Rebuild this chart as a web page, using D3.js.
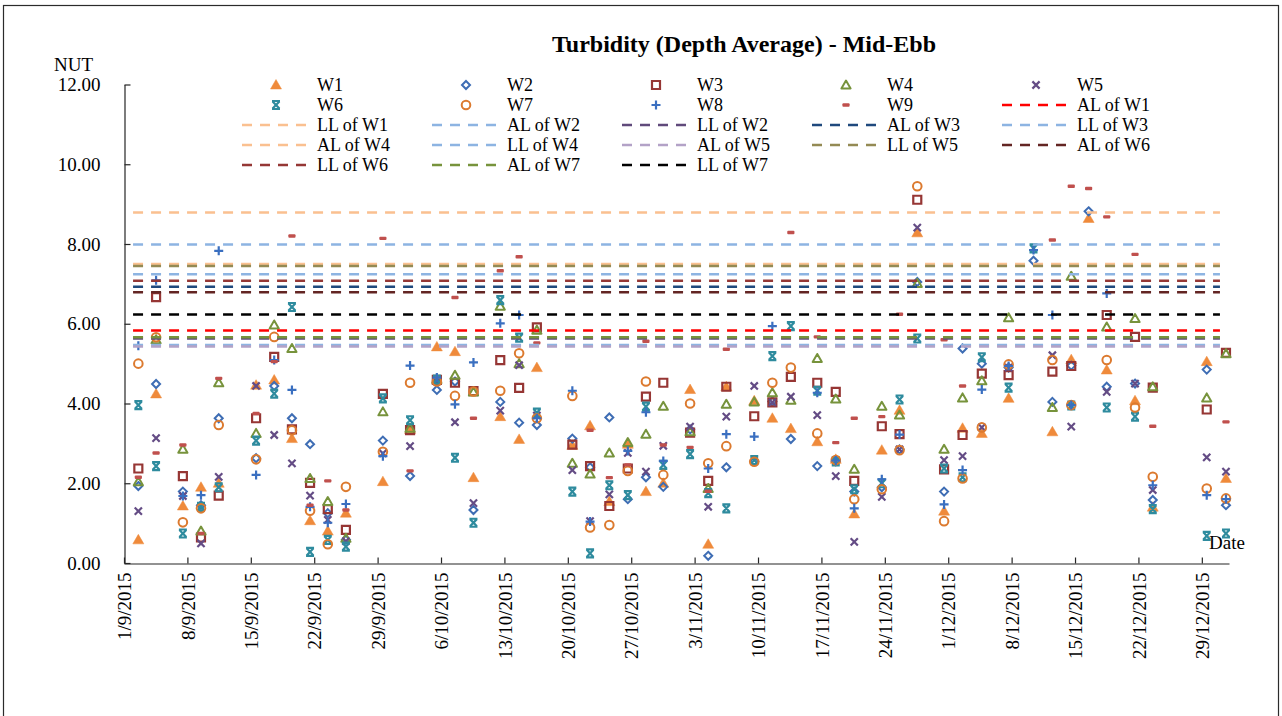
<!DOCTYPE html>
<html>
<head>
<meta charset="utf-8">
<script src="https://cdn.jsdelivr.net/npm/d3@7"></script>
<style>
body { margin: 0; background: #fff; }
text { font-family: "Liberation Serif", "Times New Roman", serif; fill: #000; }
</style>
</head>
<body>
<svg id="chart" width="1282" height="716"></svg>
<script>
// sampling times (mid-ebb)
const sampleTimes = [
    "2015-09-02 14:00", "2015-09-04 13:00", "2015-09-07 12:00", "2015-09-09 12:00", "2015-09-11 11:00",
    "2015-09-15 14:00", "2015-09-17 14:00", "2015-09-19 13:00", "2015-09-21 13:00", "2015-09-23 12:00",
    "2015-09-25 12:00", "2015-09-29 14:00", "2015-10-02 14:00", "2015-10-05 13:00", "2015-10-07 13:00",
    "2015-10-09 14:00", "2015-10-12 13:00", "2015-10-14 15:00", "2015-10-16 14:00", "2015-10-20 12:00",
    "2015-10-22 11:00", "2015-10-24 14:00", "2015-10-26 15:00", "2015-10-28 15:00", "2015-10-30 13:00",
    "2015-11-02 12:00", "2015-11-04 12:00", "2015-11-06 12:00", "2015-11-09 14:00", "2015-11-11 14:00",
    "2015-11-13 15:00", "2015-11-16 13:00", "2015-11-18 14:00", "2015-11-20 15:00", "2015-11-23 16:00",
    "2015-11-25 15:00", "2015-11-27 14:00", "2015-11-30 13:00", "2015-12-02 14:00", "2015-12-04 17:00",
    "2015-12-07 16:00", "2015-12-10 10:00", "2015-12-12 12:00", "2015-12-14 14:00", "2015-12-16 12:00",
    "2015-12-18 12:00", "2015-12-21 15:00", "2015-12-23 14:00", "2015-12-29 13:00", "2015-12-31 16:00"
];

const w1 = [0.58, 4.24, 1.43, 1.90, 2.00, 4.46, 4.59, 3.12, 1.06, 0.80,
            1.25, 2.04, 3.35, 5.42, 5.30, 2.14, 3.67, 3.10, 4.90, 2.95,
            3.44, 1.54, 2.98, 1.79, 2.00, 4.35, 0.47, 4.42, 4.07, 3.63,
            3.37, 3.04, 2.60, 1.23, 2.83, 3.83, 8.28, 1.30, 3.38, 3.25,
            4.13, null, 3.29, 5.10, 8.64, 4.84, 4.07, 1.40, 5.05, 2.12];
const w2 = [1.93, 4.49, 1.79, 1.45, 3.63, 2.63, 4.44, 3.63, 2.98, 1.25,
            0.58, 3.07, 2.18, 4.34, 4.55, 1.33, 4.04, 3.52, 3.46, 3.12,
            2.40, 3.65, 1.60, 2.15, 1.91, 3.35, 0.18, 2.40, 2.55, 4.05,
            3.11, 2.43, 2.55, 1.79, 1.90, 2.85, 7.05, 1.79, 5.38, 5.00,
            4.90, 7.58, 4.04, 4.95, 8.82, 4.42, 4.50, 1.58, 4.85, 1.45];
const w3 = [2.37, 6.67, 2.18, 0.64, 1.69, 3.63, 5.17, 3.35, 2.01, 1.35,
            0.83, 4.24, 3.33, 4.59, 4.52, 4.31, 5.09, 4.39, 5.91, 2.97,
            2.43, 1.43, 2.37, 4.17, 4.52, 3.27, 2.06, 4.42, 3.68, 4.03,
            4.67, 4.52, 4.29, 2.06, 3.43, 3.23, 9.11, 2.35, 3.21, 4.75,
            4.71, null, 4.80, 4.94, null, 6.22, 5.67, 4.40, 3.85, 5.27];
const w4 = [2.04, 5.60, 2.85, 0.80, 4.52, 3.25, 5.97, 5.38, 2.12, 1.54,
            0.62, 3.79, 3.38, 4.60, 4.71, 4.29, 6.44, 5.00, 5.84, 2.50,
            2.23, 2.76, 3.02, 3.23, 3.93, 3.29, 1.87, 3.98, 4.04, 4.27,
            4.08, 5.13, 4.11, 2.35, 3.93, 3.71, 7.01, 2.85, 4.14, 4.57,
            6.15, null, 3.90, 7.19, null, 5.92, 6.13, 4.42, 4.14, 5.25];
const w5 = [1.30, 3.13, 1.68, 0.49, 2.16, 4.44, 3.21, 2.50, 1.69, 1.08,
            0.55, 2.75, 2.93, 4.55, 3.53, 1.50, 3.82, 4.96, 3.70, 2.33,
            1.05, 1.72, 2.76, 2.29, 2.94, 3.42, 1.41, 3.67, 4.44, 4.03,
            4.17, 3.71, 2.18, 0.53, 1.66, 2.85, 8.41, 2.58, 2.68, 3.40,
            4.90, null, 5.21, 3.42, null, 4.29, 4.50, 1.83, 2.65, 2.29];
const w6 = [3.96, 2.43, 0.74, 1.41, 1.90, 3.07, 4.25, 6.42, 0.28, 0.58,
            0.41, 4.13, 3.58, 4.60, 2.64, 1.01, 6.59, 5.65, 3.77, 1.79,
            0.24, 1.95, 1.70, 3.92, 2.46, 2.73, 1.75, 1.37, 2.58, 5.19,
            5.94, 4.32, 2.55, 1.85, 2.00, 4.10, 5.63, 2.37, 2.15, 5.16,
            4.40, 7.89, null, 3.95, null, 3.90, 3.67, 1.35, 0.68, 0.74];
const w7 = [5.00, 5.66, 1.02, 1.37, 3.46, 2.60, 5.67, 3.33, 1.31, 0.47,
            1.91, 2.79, 4.52, 4.55, 4.19, 4.30, 4.32, 5.26, 3.63, 4.19,
            0.89, 0.95, 2.31, 4.55, 2.21, 4.00, 2.50, 2.93, 2.54, 4.52,
            4.90, 3.25, 2.58, 1.60, 1.85, 2.83, 9.45, 1.05, 2.12, 3.40,
            4.98, null, 5.09, 3.96, null, 5.09, 3.90, 2.16, 1.87, 1.62];
const w8 = [5.45, 7.09, 1.68, 1.70, 7.83, 2.21, 5.09, 4.34, 1.41, 1.01,
            1.48, 2.68, 4.95, 4.65, 3.98, 5.03, 6.01, 6.22, 3.63, 4.32,
            1.04, null, 2.81, 3.78, 2.56, null, 2.37, 3.23, 3.17, 5.94,
            null, 4.27, 2.57, 1.37, 2.10, 3.22, null, 1.47, 2.33, 4.35,
            4.94, 7.85, 6.22, 3.96, null, 6.76, null, 1.95, 1.70, 1.60];
const w9 = [2.15, 2.76, 2.96, 0.74, 4.63, 3.75, 5.05, 8.20, 1.45, 2.06,
            1.33, 8.14, 2.31, null, 6.66, 3.63, 7.33, 7.68, 5.52, null,
            3.33, 2.14, 2.46, 5.56, 2.96, 2.90, 1.80, 5.36, null, null,
            8.29, 5.67, 3.02, 3.63, 3.67, 6.24, null, 5.60, 4.44, null,
            null, null, 8.10, 9.45, 9.39, 8.68, 7.74, 3.43, null, 3.54];

const seriesNames = ["W1", "W2", "W3", "W4", "W5", "W6", "W7", "W8", "W9"];
const seriesValues = [w1, w2, w3, w4, w5, w6, w7, w8, w9];

// action / limit levels
const limitNames = ["AL of W1", "LL of W1", "AL of W2", "LL of W2", "AL of W3", "LL of W3", "AL of W4",
                    "LL of W4", "AL of W5", "LL of W5", "AL of W6", "LL of W6", "AL of W7", "LL of W7"];
const limitValues = [5.83, 8.79, 5.47, 5.63, 6.93, 7.24, 7.50, 7.99, 5.43, 7.45, 6.79, 7.08, 5.66, 6.23];
const limitPeriod = ["2015-09-02 00:00", "2015-12-31 00:00"];

const xTickLabels = ["1/9/2015", "8/9/2015", "15/9/2015", "22/9/2015", "29/9/2015", "6/10/2015",
                     "13/10/2015", "20/10/2015", "27/10/2015", "3/11/2015", "10/11/2015", "17/11/2015",
                     "24/11/2015", "1/12/2015", "8/12/2015", "15/12/2015", "22/12/2015", "29/12/2015"];
const xDomain = ["1/9/2015", "1/1/2016"];
const yTicks = [0, 2, 4, 6, 8, 10, 12];

// styles
const markerStyle = {
    W1: { shape: "triangle", color: "#ef8a3b", filled: true },
    W2: { shape: "diamond", color: "#3e6db4" },
    W3: { shape: "square", color: "#963634" },
    W4: { shape: "triangle", color: "#77933c" },
    W5: { shape: "x", color: "#644c85" },
    W6: { shape: "star", color: "#2e8b9e" },
    W7: { shape: "circle", color: "#dc7a2f" },
    W8: { shape: "plus", color: "#3a6fc0" },
    W9: { shape: "dash", color: "#c0504d" }
};
const limitColors = ["#ff0000", "#fac090", "#8db4e2", "#604a7b", "#1f497d", "#8db4e2", "#fac090",
                     "#8db4e2", "#b3a2c7", "#948a54", "#632523", "#953735", "#77933c", "#000000"];

const parseTime = d3.timeParse("%Y-%m-%d %H:%M");
const parseDay = d3.timeParse("%d/%m/%Y");

const svg = d3.select("#chart");

const x = d3.scaleTime()
    .domain(xDomain.map(parseDay))
    .range([124, 1229]);
const y = d3.scaleLinear()
    .domain([0, 12])
    .range([563, 84.5]);

// chart area border
svg.append("rect")
    .attr("x", 3.5).attr("y", 5.5)
    .attr("width", 1275).attr("height", 720)
    .attr("fill", "none")
    .attr("stroke", "#2b2b2b")
    .attr("stroke-width", 1.2);

function drawMarker(g, style) {
    const c = style.color;
    switch (style.shape) {
        case "triangle":
            g.append("path").attr("d", style.filled ? "M0,-5.5L5.5,4L-5.5,4Z" : "M0,-4.5L4.6,3.5L-4.6,3.5Z")
                .attr("fill", style.filled ? c : "none")
                .attr("stroke", c).attr("stroke-width", style.filled ? 0.5 : 2).attr("stroke-linejoin", "round");
            break;
        case "diamond":
            g.append("path").attr("d", "M0,-4L4,0L0,4L-4,0Z")
                .attr("fill", "none").attr("stroke", c).attr("stroke-width", 2);
            break;
        case "square":
            g.append("path").attr("d", "M-4,-4H4V4H-4Z")
                .attr("fill", "none").attr("stroke", c).attr("stroke-width", 2.2);
            break;
        case "x":
            g.append("path").attr("d", "M-3.6,-3.6L3.6,3.6M3.6,-3.6L-3.6,3.6")
                .attr("stroke", c).attr("stroke-width", 2.2);
            break;
        case "star":
            g.append("path").attr("d", "M-4,-4H4M-4,4H4M-3.4,-3.6L3.4,3.6M3.4,-3.6L-3.4,3.6")
                .attr("stroke", c).attr("stroke-width", 2.2);
            break;
        case "circle":
            g.append("circle").attr("r", 4.3)
                .attr("fill", "none").attr("stroke", c).attr("stroke-width", 2);
            break;
        case "plus":
            g.append("path").attr("d", "M-4.5,0H4.5M0,-4.5V4.5")
                .attr("stroke", c).attr("stroke-width", 2.2);
            break;
        case "dash":
            g.append("rect").attr("x", -3.6).attr("y", -1.7).attr("width", 7.2).attr("height", 3.4)
                .attr("rx", 1).attr("fill", c);
            break;
    }
}

// scatter series, W1 drawn first so W9 ends on top
seriesNames.forEach((name, i) => {
    const pts = sampleTimes.map((t, j) => ({ t: parseTime(t), v: seriesValues[i][j] }))
        .filter(d => d.v !== null);
    const g = svg.append("g").attr("class", "series-" + name);
    g.selectAll("g")
        .data(pts)
        .enter().append("g")
        .attr("transform", d => `translate(${x(d.t)},${y(d.v)})`)
        .each(function () { drawMarker(d3.select(this), markerStyle[name]); });
});

// limit lines
const lineGen = d3.line().x(d => x(d.t)).y(d => y(d.v));
limitNames.forEach((name, i) => {
    const pts = limitPeriod.map(t => ({ t: parseTime(t), v: limitValues[i] }));
    svg.append("path")
        .attr("d", lineGen(pts))
        .attr("fill", "none")
        .attr("stroke", limitColors[i])
        .attr("stroke-width", 2.5)
        .attr("stroke-dasharray", "10,8");
});

// axes
const yAxis = d3.axisLeft(y)
    .tickValues(yTicks)
    .tickFormat(d3.format(".2f"))
    .tickSizeInner(-6)
    .tickSizeOuter(0)
    .tickPadding(24);
const yG = svg.append("g").attr("transform", "translate(124.5,0)").call(yAxis);

const xAxis = d3.axisBottom(x)
    .tickValues(xTickLabels.map(parseDay))
    .tickFormat(d3.timeFormat("%-d/%-m/%Y"))
    .tickSizeInner(-6)
    .tickSizeOuter(0);
const xG = svg.append("g").attr("transform", "translate(0,563.5)").call(xAxis);
xG.selectAll("text")
    .attr("transform", "rotate(-90)")
    .attr("x", -9)
    .attr("y", 0)
    .attr("dy", "0.35em")
    .attr("text-anchor", "end");

[yG, xG].forEach(g => {
    g.selectAll("path, line").attr("stroke", "#262626").attr("stroke-width", 1.2);
    g.selectAll("text").style("font-family", '"Liberation Serif", serif').style("font-size", "19px").attr("fill", "#000");
});

// titles
svg.append("text")
    .attr("x", 744).attr("y", 52)
    .attr("text-anchor", "middle")
    .style("font-size", "24px")
    .style("font-weight", "bold")
    .text("Turbidity (Depth Average) - Mid-Ebb");
svg.append("text").attr("x", 54).attr("y", 71).style("font-size", "19px").text("NUT");
svg.append("text").attr("x", 1209).attr("y", 549).style("font-size", "19px").text("Date");

// legend, 5 columns
const legendItems = seriesNames.map(n => ({ name: n, marker: markerStyle[n] }))
    .concat(limitNames.map((n, i) => ({ name: n, color: limitColors[i] })));
const legend = svg.append("g").attr("class", "legend");
legendItems.forEach((item, k) => {
    const col = k % 5, row = Math.floor(k / 5);
    const tx = 317 + 190 * col, ty = 85 + 20 * row;
    const g = legend.append("g");
    if (item.marker) {
        drawMarker(g.append("g").attr("transform", `translate(${tx - 41},${ty})`), item.marker);
    } else {
        g.append("line")
            .attr("x1", tx - 75).attr("x2", tx - 11)
            .attr("y1", ty).attr("y2", ty)
            .attr("stroke", item.color)
            .attr("stroke-width", 2.5)
            .attr("stroke-dasharray", "10,8");
    }
    g.append("text")
        .attr("x", tx).attr("y", ty)
        .attr("dy", "0.35em")
        .style("font-size", "18px")
        .text(item.name);
});
</script>
</body>
</html>
